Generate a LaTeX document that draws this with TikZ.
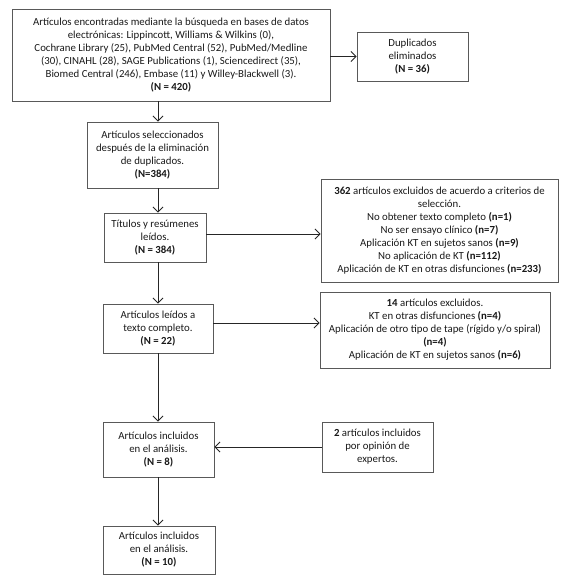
\documentclass[tikz,border=0pt]{standalone}
\usepackage{fontspec}
\setmainfont{Carlito}
\usetikzlibrary{arrows.meta}
\begin{document}
\begin{tikzpicture}[x=1pt,y=-1pt,
  box/.style={draw=black!65,line width=0.8pt,align=center,inner sep=0pt,
    font=\fontsize{10.8}{13}\selectfont,text=black!90},
  arr/.style={draw=black!85,line width=0.9pt,-{Straight Barb[length=5pt,width=10pt,line width=0.9pt]}}]
\useasboundingbox (0,0) rectangle (568,582);
\node[box,minimum width=318pt,minimum height=92pt] (b1) at (171,55)
 {Artículos encontradas mediante la búsqueda en bases de datos\\
  electrónicas: Lippincott, Williams \& Wilkins (0),\\
  Cochrane Library (25), PubMed Central (52), PubMed/Medline\\
  (30), CINAHL (28), SAGE Publications (1), Sciencedirect (35),\\
  Biomed Central (246), Embase (11) y Willey-Blackwell (3).\\
  \textbf{(N = 420)}};
\node[box,minimum width=111pt,minimum height=49pt] (dup) at (412.5,56.5)
 {Duplicados\\eliminados\\\textbf{(N = 36)}};
\node[box,minimum width=131pt,minimum height=66pt] (b2) at (152.5,155)
 {Artículos seleccionados\\después de la eliminación\\de duplicados.\\\textbf{(N=384)}};
\node[box,minimum width=102pt,minimum height=49pt] (b3) at (155,237.5)
 {Títulos y resúmenes\\leídos.\\\textbf{(N = 384)}};
\node[box,minimum width=237pt,minimum height=103pt] (b4) at (439.5,230.5)
 {\textbf{362} artículos excluidos de acuerdo a criterios de\\selección.\\
  No obtener texto completo \textbf{(n=1)}\\
  No ser ensayo clínico \textbf{(n=7)}\\
  Aplicación KT en sujetos sanos \textbf{(n=9)}\\
  No aplicación de KT \textbf{(n=112)}\\
  Aplicación de KT en otras disfunciones \textbf{(n=233)}};
\node[box,minimum width=110pt,minimum height=49pt] (b5) at (158,328.5)
 {Artículos leídos a\\texto completo.\\\textbf{(N = 22)}};
\node[box,minimum width=230pt,minimum height=76pt] (b6) at (435,330)
 {\textbf{14} artículos excluidos.\\
  KT en otras disfunciones \textbf{(n=4)}\\
  Aplicación de otro tipo de tape (rígido y/o spiral)\\
  \textbf{(n=4)}\\
  Aplicación de KT en sujetos sanos \textbf{(n=6)}};
\node[box,minimum width=111pt,minimum height=55pt] (b7) at (158.5,449.5)
 {Artículos incluidos\\en el análisis.\\\textbf{(N = 8)}};
\node[box,minimum width=111pt,minimum height=50pt] (exp) at (377.5,447)
 {\textbf{2} artículos incluidos\\por opinión de\\expertos.};
\node[box,minimum width=112pt,minimum height=48pt] (b9) at (159,550)
 {Artículos incluidos\\en el análisis.\\\textbf{(N = 10)}};
\draw[arr] (b1.east |- dup.west) -- (dup.west);
\draw[arr] (b1.south -| b5) -- (b2.north -| b5);
\draw[arr] (b2.south -| b5) -- (b3.north -| b5);
\draw[arr] ([yshift=3.5pt]b3.east) -- ([yshift=3.5pt]b3.east -| b4.west);
\draw[arr] (b3.south -| b5) -- (b5.north);
\draw[arr] ([yshift=5.5pt]b5.east) -- ([yshift=5.5pt]b5.east -| b6.west);
\draw[arr] (b5.south) -- (b7.north -| b5);
\draw[arr] (exp.west) -- (exp.west -| b7.east);
\draw[arr] (b7.south -| b5) -- (b9.north -| b5);
\end{tikzpicture}
\end{document}
